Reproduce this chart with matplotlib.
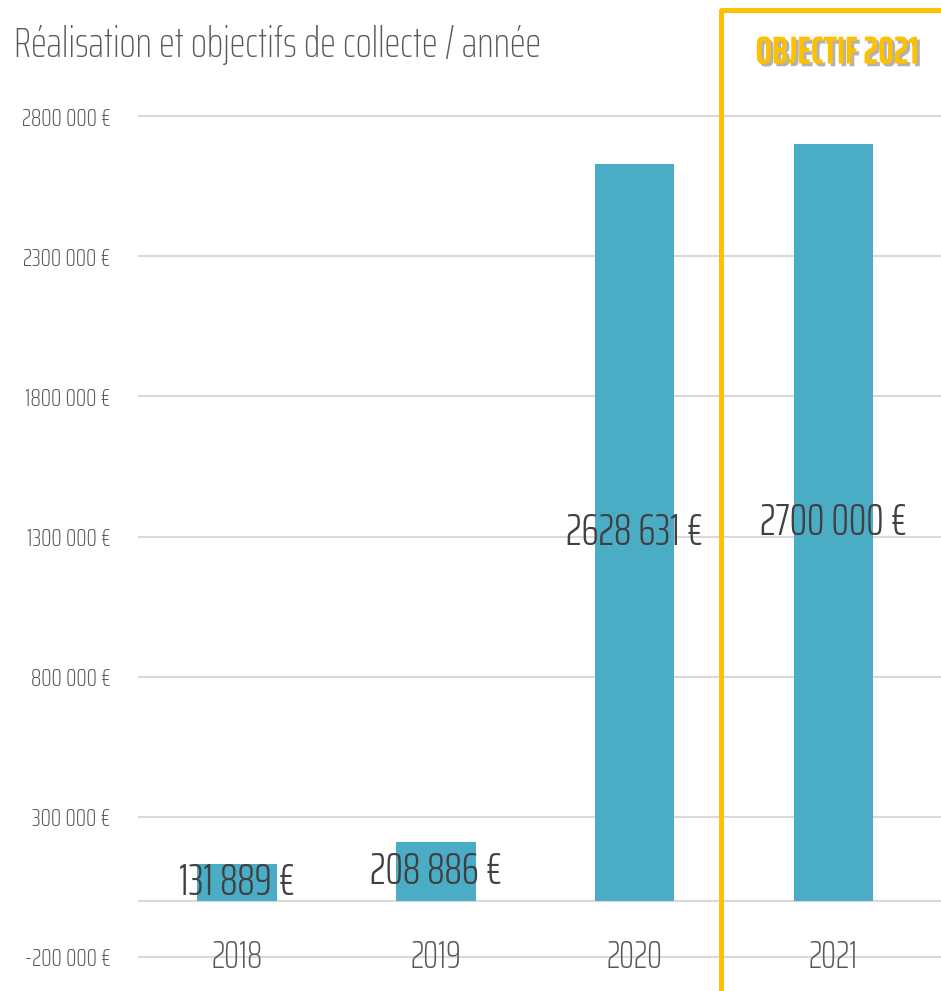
import matplotlib.pyplot as plt
import matplotlib.patheffects as pe
from matplotlib.lines import Line2D

# ================= données =================
years = ['2018', '2019', '2020', '2021']
collecte = [131889, 208886, 2628631, 2700000]
y_ticks = [-200000, 300000, 800000, 1300000, 1800000, 2300000, 2800000]

BAR_COLOR = '#4BACC6'
GRID_COLOR = '#d9d9d9'
TEXT_GREY = '#595959'
LABEL_DARK = '#404040'
GOLD = '#FFC000'

FONT = ['Saira ExtraCondensed', 'Liberation Sans Narrow', 'DejaVu Sans']
plt.rcParams['font.family'] = FONT


def euros(v):
    """Format 'xxxx xxx €' (séparateur uniquement sur les milliers)."""
    sign = '-' if v < 0 else ''
    v = abs(int(v))
    if v >= 1000:
        return f"{sign}{v // 1000} {v % 1000:03d} €"
    return f"{sign}{v} €"


W, H = 941, 991
fig = plt.figure(figsize=(W / 100, H / 100), dpi=100)

# zone de tracé : -220 000 -> 2 820 000, en pixels 110.4 -> 962.6 depuis le haut
ax = fig.add_axes([137.5 / W, 1 - 962.6 / H, (W - 137.5) / W, (962.6 - 110.4) / H])
ax.set_ylim(-220000, 2820000)
ax.set_xlim(-0.5, 3.54)

x = list(range(len(years)))
ax.bar(x, collecte, width=0.4, color=BAR_COLOR, zorder=2)

# quadrillage horizontal
for t in y_ticks:
    ax.axhline(t, color=GRID_COLOR, linewidth=1.5, zorder=1)
ax.axhline(0, color=GRID_COLOR, linewidth=1.5, zorder=1)

ax.set_yticks(y_ticks)
ax.set_yticklabels([euros(t) for t in y_ticks], fontsize=18.5, color=TEXT_GREY,
                   fontweight=275)
ax.tick_params(axis='y', length=0, pad=19.5)
ax.set_xticks([])
for s in ax.spines.values():
    s.set_visible(False)

# années posées sur la ligne du bas
for i, yr in enumerate(years):
    ax.text(i, -200000, yr, ha='center', va='center', fontsize=27,
            color=TEXT_GREY, fontweight=275, zorder=3)

# valeurs au milieu des barres
for i, v in enumerate(collecte):
    ax.text(i, v / 2, euros(v), ha='center', va='center', fontsize=31.5,
            color=LABEL_DARK, fontweight=300, zorder=3)

# titre
fig.text(14 / W, 1 - 45 / H, 'Réalisation et objectifs de collecte / année',
         ha='left', va='center', fontsize=30.5, color=TEXT_GREY, fontweight=250)

# cadre objectif 2021
frame = Line2D([(W + 10) / W, 721 / W, 721 / W], [1 - 10 / H, 1 - 10 / H, -0.02],
               transform=fig.transFigure, color=GOLD, linewidth=3.6,
               solid_joinstyle='round')
fig.add_artist(frame)

fig.text(837 / W, 1 - 53 / H, 'OBJECTIF 2021', ha='center', va='center',
         fontsize=28, fontweight=700, color=GOLD,
         path_effects=[pe.withSimplePatchShadow(offset=(2, -2),
                                                shadow_rgbFace='#7f7f7f', alpha=0.6)])

fig.savefig('out.png', dpi=100)
